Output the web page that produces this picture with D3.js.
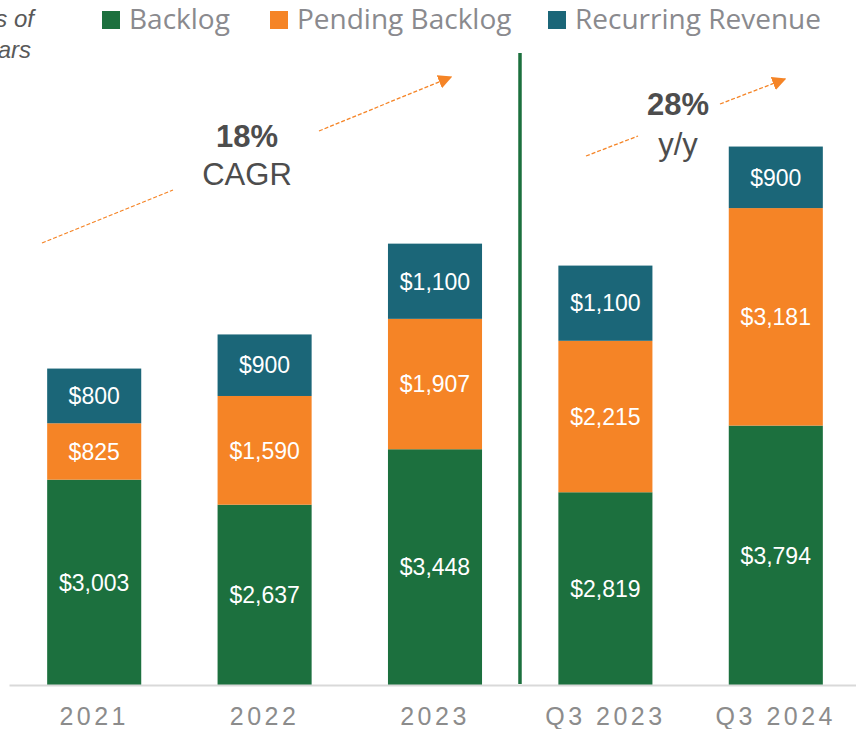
<!DOCTYPE html>
<html>
<head>
<meta charset="utf-8">
<script src="https://cdn.jsdelivr.net/npm/d3@7"></script>
<style>
  body { margin: 0; background: #fff; }
  svg { display: block; }
</style>
</head>
<body>
<div id="chart"></div>
<script>
var categories = ["2021", "2022", "2023", "Q3 2023", "Q3 2024"];
var backlog = [3003, 2637, 3448, 2819, 3794];
var pendingBacklog = [825, 1590, 1907, 2215, 3181];
var recurringRevenue = [800, 900, 1100, 1100, 900];
var seriesNames = ["Backlog", "Pending Backlog", "Recurring Revenue"];
var colors = ["#1c703e", "#f58426", "#1b6678"];

var width = 856, height = 729;
var baseY = 685;

var svg = d3.select("#chart").append("svg")
    .attr("width", width)
    .attr("height", height);

var x = d3.scaleBand()
    .domain(categories)
    .range([9, 861])
    .paddingInner(0.448)
    .paddingOuter(0.224);

var y = d3.scaleLinear()
    .domain([0, 8000])
    .range([baseY, 138]);

var rows = categories.map(function(c, i) {
    return { cat: c, backlog: backlog[i], pending: pendingBacklog[i], recurring: recurringRevenue[i] };
});
var keys = ["backlog", "pending", "recurring"];
var stacked = d3.stack().keys(keys)(rows);

// bars
var layers = svg.selectAll("g.layer")
    .data(stacked)
    .enter().append("g")
    .attr("class", "layer")
    .attr("fill", function(d, i) { return colors[i]; });

layers.selectAll("rect")
    .data(function(d) { return d; })
    .enter().append("rect")
    .attr("x", function(d) { return x(d.data.cat); })
    .attr("y", function(d) { return y(d[1]); })
    .attr("width", x.bandwidth())
    .attr("height", function(d) { return y(d[0]) - y(d[1]); });

layers.selectAll("text")
    .data(function(d) { return d; })
    .enter().append("text")
    .attr("x", function(d) { return x(d.data.cat) + x.bandwidth() / 2; })
    .attr("y", function(d) { return (y(d[0]) + y(d[1])) / 2; })
    .attr("dy", "0.36em")
    .attr("text-anchor", "middle")
    .attr("fill", "#fff")
    .style("font-family", "'Liberation Sans', Arial, sans-serif")
    .style("font-size", "23px")
    .text(function(d) { return "$" + d3.format(",")(d[1] - d[0]); });

// x axis
var xAxis = svg.append("g")
    .attr("transform", "translate(0," + baseY + ")")
    .call(d3.axisBottom(x).tickSize(0).tickSizeOuter(0).tickPadding(22));
xAxis.select(".domain").attr("stroke", "#d9d9d9").attr("stroke-width", 2);
xAxis.selectAll("text")
    .attr("fill", "#8c8c8c")
    .style("font-family", "'Liberation Sans', Arial, sans-serif")
    .style("font-size", "25px")
    .style("letter-spacing", "3.5px");

// divider between years and quarters
svg.append("line")
    .attr("x1", 520).attr("x2", 520)
    .attr("y1", 53).attr("y2", baseY - 1)
    .attr("stroke", "#1c703e")
    .attr("stroke-width", 3.5);

// legend
var legendX = [102, 270, 548];
var legend = svg.selectAll("g.legend")
    .data(seriesNames)
    .enter().append("g")
    .attr("class", "legend")
    .attr("transform", function(d, i) { return "translate(" + legendX[i] + ",0)"; });
legend.append("rect")
    .attr("x", 0).attr("y", 11)
    .attr("width", 18).attr("height", 18)
    .attr("fill", function(d, i) { return colors[i]; });
legend.append("text")
    .attr("x", 27).attr("y", 29)
    .attr("fill", "#8a8a8e")
    .style("font-family", "'Open Sans', sans-serif")
    .style("font-size", "28px")
    .text(function(d) { return d; });

// units note, cut off at the left edge as in the source slide
var note = svg.append("g")
    .attr("fill", "#595959")
    .style("font-family", "'Liberation Sans', Arial, sans-serif")
    .style("font-size", "24px")
    .style("font-style", "italic")
    .attr("text-anchor", "end");
note.append("text").attr("x", 34).attr("y", 27).text("$ in millions of");
note.append("text").attr("x", 31).attr("y", 58).text("dollars");

// growth annotations
svg.append("defs").append("marker")
    .attr("id", "arrow")
    .attr("viewBox", "0 0 10 10")
    .attr("refX", 9).attr("refY", 5)
    .attr("markerWidth", 14).attr("markerHeight", 14)
    .attr("markerUnits", "userSpaceOnUse")
    .attr("orient", "auto")
    .append("path")
    .attr("d", "M0,0 L10,5 L0,10 Z")
    .attr("fill", "#f58426");

function dashed(x1, y1, x2, y2, withArrow) {
    var l = svg.append("line")
        .attr("x1", x1).attr("y1", y1)
        .attr("x2", x2).attr("y2", y2)
        .attr("stroke", "#f58426")
        .attr("stroke-width", 1.3)
        .attr("stroke-dasharray", "4,2");
    if (withArrow) l.attr("marker-end", "url(#arrow)");
}
dashed(42, 243, 173, 190, false);
dashed(319, 131, 451, 77, true);
dashed(586, 156, 638, 136, false);
dashed(720, 104, 785, 79, true);

function growth(cx, y1, y2, big, small) {
    svg.append("text")
        .attr("x", cx).attr("y", y1)
        .attr("text-anchor", "middle")
        .attr("fill", "#4d4d4d")
        .style("font-family", "'Liberation Sans', Arial, sans-serif")
        .style("font-size", "31px")
        .style("font-weight", "bold")
        .text(big);
    svg.append("text")
        .attr("x", cx).attr("y", y2)
        .attr("text-anchor", "middle")
        .attr("fill", "#4d4d4d")
        .style("font-family", "'Liberation Sans', Arial, sans-serif")
        .style("font-size", "31px")
        .text(small);
}
growth(247, 147, 185, "18%", "CAGR");
growth(678, 115, 155, "28%", "y/y");
</script>
</body>
</html>
